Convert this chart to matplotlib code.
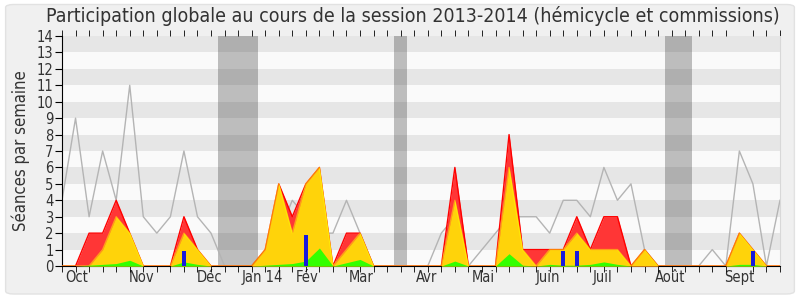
import numpy as np
import matplotlib
matplotlib.use("Agg")
import matplotlib.pyplot as plt
from matplotlib.patches import FancyBboxPatch

plt.rcParams['font.family'] = ['DejaVu Sans']
plt.rcParams['font.stretch'] = 'condensed'
plt.rcParams['text.color'] = '#333333'
plt.rcParams['xtick.labelcolor'] = '#333333'
plt.rcParams['ytick.labelcolor'] = '#333333'

# semaines de la session (index de semaine)
weeks = np.arange(54)

# séances en hémicycle (ligne grise)
seances = [4, 9, 3, 7, 4, 11, 3, 2, 3, 7, 3, 2, 0, 0, 0, 0, 2, 4, 3, 2,
           2, 4, 2, 0, 0, 0, 0, 0, 2, 3, 0, 1, 2, 3, 3, 3, 2, 4, 4, 3,
           6, 4, 5, 1, 0, 0, 0, 0, 1, 0, 7, 5, 0, 4]
# présences commissions + hémicycle (rouge)
presences = [0, 0, 2, 2, 4, 2, 0, 0, 0, 3, 1, 0, 0, 0, 0, 1, 5, 3, 5, 6,
             0, 2, 2, 0, 0, 0, 0, 0, 0, 6, 0, 0, 0, 8, 1, 1, 1, 1, 3, 1,
             3, 3, 0, 1, 0, 0, 0, 0, 0, 0, 2, 1, 0, 0]
# présences en commission (jaune)
commissions = [0, 0, 0, 1, 3, 2, 0, 0, 0, 2, 1, 0, 0, 0, 0, 1, 5, 2, 5, 6,
               0, 1, 2, 0, 0, 0, 0, 0, 0, 4, 0, 0, 0, 6, 1, 0, 1, 1, 2, 1,
               1, 1, 0, 1, 0, 0, 0, 0, 0, 0, 2, 1, 0, 0]
# interventions (vert)
interventions = [0, 0, 0.05, 0.1, 0.15, 0.35, 0, 0, 0, 0.25, 0.1, 0, 0, 0, 0, 0.05, 0.1, 0.15, 0.3, 1.1,
                 0, 0.2, 0.4, 0, 0, 0, 0, 0, 0, 0.3, 0, 0, 0, 0.75, 0.05, 0, 0.1, 0.05, 0.05, 0.1,
                 0.25, 0.1, 0, 0, 0, 0, 0, 0, 0, 0, 0.1, 0.1, 0, 0]
# questions orales (barres bleues)
questions_weeks = [9, 18, 37, 38, 51]
questions = [0.9, 1.9, 0.9, 0.9, 0.9]

# vacances parlementaires (début, fin en semaines)
vacances = [(11.5, 14.5), (24.5, 25.5), (44.5, 46.5)]

mois = ['Oct', 'Nov', 'Déc', 'Jan 14', 'Fév', 'Mar', 'Avr', 'Mai', 'Juin', 'Juil', 'Août', 'Sept']
mois_pos = [1.1, 5.9, 10.9, 14.8, 18.1, 22.1, 26.9, 31.1, 35.9, 39.9, 44.9, 50.0]

fig = plt.figure(figsize=(8, 3), dpi=100, facecolor='white')
fig.patches.append(FancyBboxPatch((0.007, 0.02), 0.986, 0.965, boxstyle="round,pad=0,rounding_size=0.01",
                                  transform=fig.transFigure, facecolor='#f0f0f0', edgecolor='#e2e2e2',
                                  lw=1, zorder=-10))
ax = fig.add_axes([0.0775, 0.1133, 0.8975, 0.7667])
ax.set_facecolor('#fafafa')

# bandes horizontales
for k in range(1, 14, 2):
    ax.axhspan(k, k + 1, color='#e6e6e6', lw=0, zorder=0)

for a, b in vacances:
    ax.axvspan(a, b, color='#323232', alpha=0.3, lw=0, zorder=1)

ax.plot(weeks, seances, color='#b4b4b4', lw=1, zorder=2)
ax.fill_between(weeks, 0, presences, color='#ff3636', lw=0, zorder=3)
ax.plot(weeks, presences, color='#ff0000', lw=1, zorder=3)
ax.fill_between(weeks, 0, commissions, color='#ffd30a', lw=0, zorder=4)
ax.plot(weeks, commissions, color='#ffff00', lw=1, alpha=0.5, zorder=4)
ax.fill_between(weeks, 0, interventions, color='#33ff00', lw=0, zorder=5)
ax.bar(questions_weeks, questions, width=0.3, color='#1a1adc', zorder=6)

ax.set_xlim(0, 53)
ax.set_ylim(0, 14)
ax.set_yticks(range(15))
ax.tick_params(axis='y', length=5, labelsize=10.5, pad=1)
ax.set_xticks(mois_pos)
ax.set_xticklabels(mois, fontsize=10.5)
ax.set_xticks(weeks, minor=True)
ax.tick_params(axis='x', which='major', length=0, pad=3)
ax.tick_params(axis='x', which='minor', length=4, bottom=True)
ax.tick_params(axis='x', which='minor', top=True)
ax.spines['top'].set_visible(False)
ax.spines['right'].set_color('#d8d8d8')
ax.set_ylabel('Séances par semaine', fontsize=12, labelpad=5, color='#333333')
fig.text(0.516, 0.945, 'Participation globale au cours de la session 2013-2014 (hémicycle et commissions)',
         ha='center', va='center', fontsize=14)

fig.savefig('out.png', dpi=100, facecolor=fig.get_facecolor())
